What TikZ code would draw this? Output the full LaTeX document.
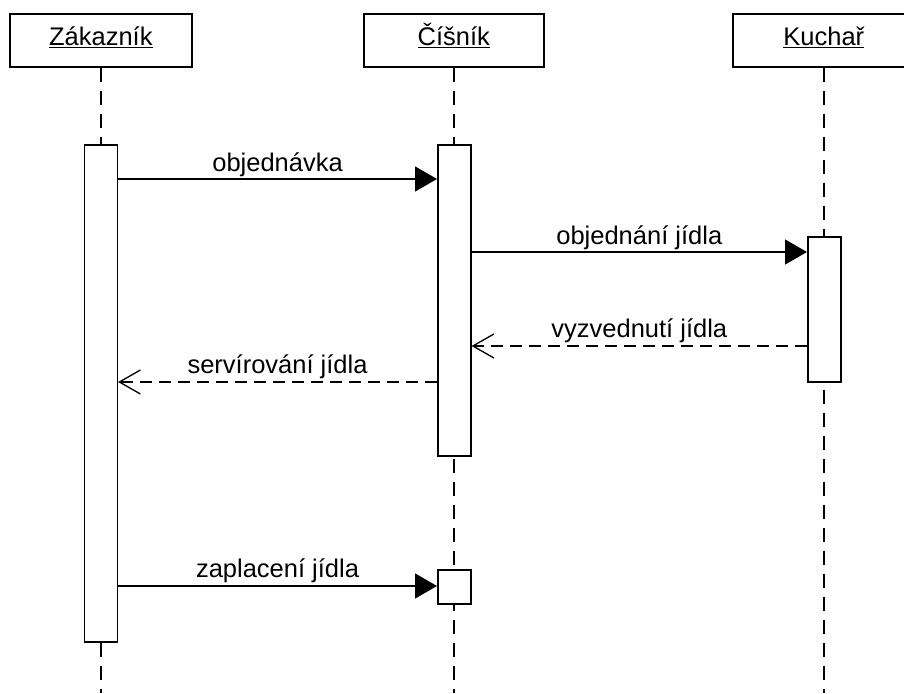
\documentclass[tikz,border=0pt]{standalone}
\usepackage{fontspec}
\setmainfont{Liberation Sans}
\usetikzlibrary{arrows.meta}
\begin{document}
\begin{tikzpicture}[x=1pt,y=-1pt,
  every node/.style={font=\fontsize{25.5}{30}\selectfont, inner sep=0pt},
  head/.style={draw, line width=1.6pt, minimum height=53pt, anchor=north west},
  act/.style={draw, fill=white, line width=1.6pt, minimum width=33pt, anchor=north west},
  life/.style={line width=1.4pt, dash pattern=on 14pt off 9pt},
  call/.style={line width=1.3pt, -{Triangle[length=22pt,width=25pt]}},
  reply/.style={line width=1.3pt, dash pattern=on 12pt off 7pt, -{Straight Barb[length=21pt,width=24pt,line width=1.3pt]}},
  lbl/.style={anchor=base}
]
\useasboundingbox (0,0) rectangle (904,693);
\clip (0,0) rectangle (904,693);
% lifeline heads
\node[head, minimum width=182pt] (hZ) at (9,13) {};
\node[head, minimum width=180pt] (hC) at (363,13) {};
\node[head, minimum width=182pt] (hK) at (732,13) {};
\node[lbl] (tZ) at ([yshift=-5pt]hZ.center) {\underline{Zákazník}};
\node[lbl] (tC) at ([yshift=-5pt]hC.center) {\underline{Číšník}};
\node[lbl] (tK) at ([yshift=-5pt]hK.center) {\underline{Kuchař}};
% lifelines
\coordinate (eZ) at (hZ.south |- 0,693);
\coordinate (eC) at (hC.south |- 0,693);
\coordinate (eK) at (hK.south |- 0,693);
\draw[life] (hZ.south) -- (eZ);
\draw[life] (hC.south) -- (eC);
\draw[life] (hK.south) -- (eK);
% activations
\node[act, minimum height=497pt] (aZ) at (83.5,144) {};
\node[act, minimum height=311pt] (aC) at (437,144) {};
\node[act, minimum height=145pt] (aK) at (807,236) {};
\node[act, minimum height=34pt] (aC2) at (437,569) {};
% messages
\draw[call] (aZ.east |- 0,179) -- (aC.west |- 0,179)
  node[lbl, pos=0.5, yshift=8pt] (m1) {objednávka};
\draw[call] (aC.east |- 0,252) -- (aK.west |- 0,252)
  node[lbl, pos=0.5, yshift=8pt] (m2) {objednání jídla};
\draw[reply] (aK.west |- 0,346) -- (aC.east |- 0,346)
  node[lbl, pos=0.5, yshift=9pt] (m3) {vyzvednutí jídla};
\draw[reply] (aC.west |- 0,382) -- (aZ.east |- 0,382)
  node[lbl, pos=0.5, yshift=9pt] (m4) {servírování jídla};
\draw[call] (aZ.east |- 0,586) -- (aC2.west |- 0,586)
  node[lbl, pos=0.5, yshift=9pt] (m5) {zaplacení jídla};
\end{tikzpicture}
\end{document}
